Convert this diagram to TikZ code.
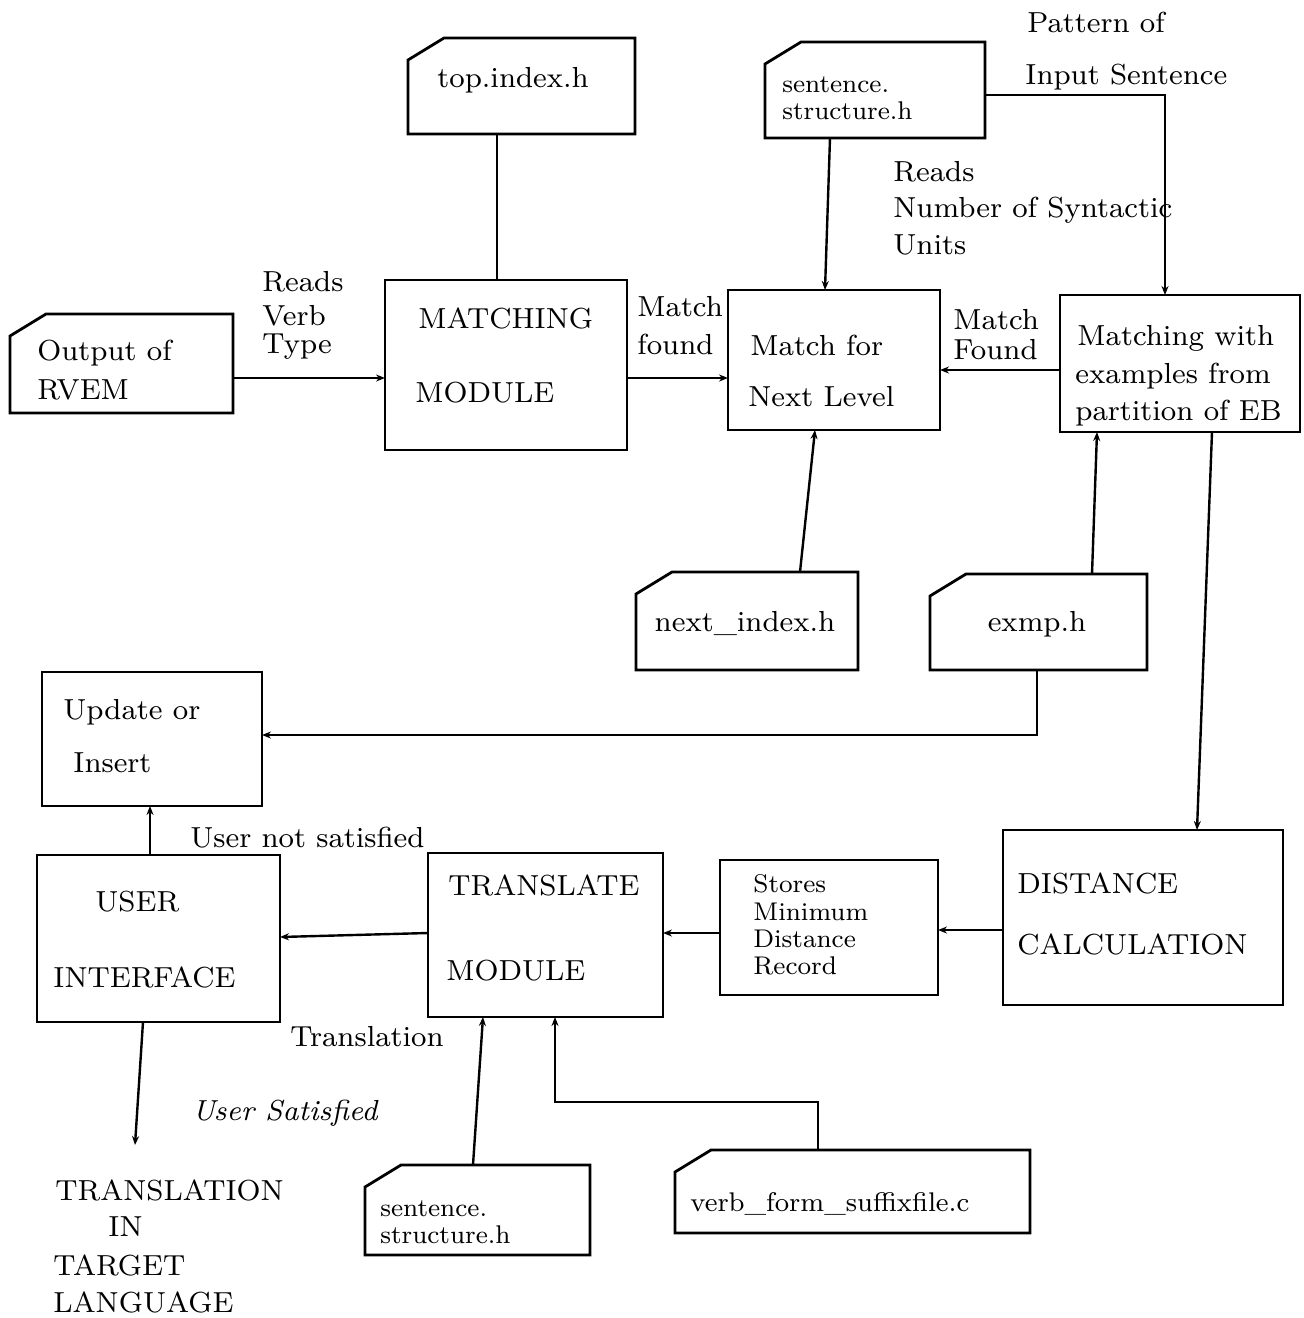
\documentclass[tikz,border=0pt]{standalone}
\usepackage{fontspec}
\setmainfont{lmroman8-regular.otf}[ItalicFont=lmroman8-italic.otf]
\usetikzlibrary{arrows.meta}
\begin{document}
\begin{tikzpicture}[x=0.5pt,y=-0.5pt]
\tikzset{
  boxst/.style={draw, line width=1.4pt, inner sep=0pt, outer sep=0pt},
  docst/.style={inner sep=0pt, outer sep=0pt},
  outline/.style={line width=1.4pt, line join=miter},
  link/.style={line width=1.2pt},
  arr/.style={link, -{Stealth[length=4.5pt,width=3.5pt]}},
  lbl/.style={font=\fontsize{14.5}{16}\selectfont, inner sep=0pt, anchor=west},
  lbls/.style={font=\fontsize{13.5}{14}\selectfont, inner sep=0pt, anchor=west},
  stack/.style={font=\fontsize{12.8}{13.6}\selectfont, inner sep=0pt, anchor=west, align=left},
}
% plain box: name, x1, y1, x2, y2
\newcommand\pbox[5]{\node[boxst, minimum width={(#4-#2)*0.5pt}, minimum height={(#5-#3)*0.5pt}]
  (#1) at ({(#2+#4)/2},{(#3+#5)/2}) {};}
% file box with a cut top-left corner
\newcommand\pdoc[5]{\node[docst, minimum width={(#4-#2)*0.5pt}, minimum height={(#5-#3)*0.5pt}]
  (#1) at ({(#2+#4)/2},{(#3+#5)/2}) {};
  \draw[outline] (#1.south west) -- ([yshift=-11pt]#1.north west) -- ([xshift=18pt]#1.north west)
    -- (#1.north east) -- (#1.south east) -- cycle;}

\useasboundingbox (0,0) rectangle (1303,1318);

% ---- boxes ----
\pdoc{topidx}{408}{38}{635}{134}
\pdoc{rvem}{10}{314}{233}{413}
\pbox{matching}{385}{280}{627}{450}
\pdoc{ssa}{765}{42}{985}{138}
\pbox{nextlvl}{728}{290}{940}{430}
\pbox{exmatch}{1060}{295}{1300}{432}
\pdoc{nextidx}{636}{572}{858}{670}
\pdoc{exmp}{930}{574}{1147}{670}
\pbox{update}{42}{672}{262}{806}
\pbox{user}{37}{855}{280}{1022}
\pbox{translate}{428}{853}{663}{1017}
\pbox{stores}{720}{860}{938}{995}
\pbox{dist}{1003}{830}{1283}{1005}
\pdoc{ssb}{365}{1165}{590}{1255}
\pdoc{verbf}{675}{1150}{1030}{1233}
\coordinate (outend) at (135,1145);

% ---- texts in boxes ----
\node[lbl] (tTop) at (437,80) {top.index.h};
\node[stack] (tSsa) at (782,98) {sentence.\\structure.h};
\node[lbl] (tRvem1) at (37,353) {Output of};
\node[lbl] (tRvem2) at (37,390) {RVEM};
\node[lbl] (tMat1) at (418,318) {MATCHING};
\node[lbl] (tMat2) at (415,393) {MODULE};
\node[lbl] (tNl1) at (750,345) {Match for};
\node[lbl] (tNl2) at (748,397) {Next Level};
\node[lbl] (tEx1) at (1077,338) {Matching with};
\node[lbl] (tEx2) at (1075,376) {examples from};
\node[lbl] (tEx3) at (1075,413) {partition of EB};
\node[lbl, anchor=center] (tNidx) at (745,623) {next\_index.h};
\node[lbl, anchor=center] (tExmp) at (1037,624) {exmp.h};
\node[lbl] (tUpd1) at (63,712) {Update or};
\node[lbl] (tUpd2) at (73,763) {Insert};
\node[lbl] (tUser1) at (95,902) {USER};
\node[lbl] (tUser2) at (53,977) {INTERFACE};
\node[lbl] (tTr1) at (448,885) {TRANSLATE};
\node[lbl] (tTr2) at (446,971) {MODULE};
\node[stack] (tStores) at (753,925) {Stores\\Minimum\\Distance\\Record};
\node[lbl] (tDist1) at (1017,883) {DISTANCE};
\node[lbl] (tDist2) at (1017,944) {CALCULATION};
\node[stack] (tSsb) at (380,1222) {sentence.\\structure.h};
\node[lbls] (tVerb) at (690,1204) {verb\_form\_suffixfile.c};

% ---- free labels ----
\node[lbl] (lPat1) at (1027,22) {Pattern of};
\node[lbl] (lPat2) at (1025,77) {Input Sentence};
\node[lbl] (lRd1) at (893,172) {Reads};
\node[lbl] (lRd2) at (893,210) {Number of Syntactic};
\node[lbl] (lRd3) at (893,245) {Units};
\node[lbl] (lVt1) at (262,282) {Reads};
\node[lbl] (lVt2) at (262,316) {Verb};
\node[lbl] (lVt3) at (262,347) {Type};
\node[lbl] (lMf1) at (637,307) {Match};
\node[lbl] (lMf2) at (637,344) {found};
\node[lbl] (lMF1) at (953,320) {Match};
\node[lbl] (lMF2) at (953,350) {Found};
\node[lbl] (lNot) at (190,838) {User not satisfied};
\node[lbl] (lTrans) at (290,1037) {Translation};
\node[lbl] (lSat) at (192,1113) {\itshape User Satisfied};
\node[lbl] (lOut1) at (55,1190) {TRANSLATION};
\node[lbl] (lOut2) at (108,1227) {IN};
\node[lbl] (lOut3) at (53,1265) {TARGET};
\node[lbl] (lOut4) at (53,1302) {LANGUAGE};

% ---- connectors ----
\draw[link] (497,0 |- topidx.south) -- (497,0 |- matching.north);
\draw[arr] (rvem.east |- 0,378) -- (matching.west |- 0,378);
\draw[arr] (matching.east |- 0,378) -- (nextlvl.west |- 0,378);
\draw[arr] (exmatch.west |- 0,370) -- (nextlvl.east |- 0,370);
\draw[arr] (830,0 |- ssa.south) -- (825,0 |- nextlvl.north);
\draw[arr] (ssa.east |- 0,95) -| (1165,0 |- exmatch.north);
\draw[arr] (800,0 |- nextidx.north) -- (815,0 |- nextlvl.south);
\draw[arr] (1092,0 |- exmp.north) -- (1097,0 |- exmatch.south);
\draw[arr] (1212,0 |- exmatch.south) -- (1197,0 |- dist.north);
\draw[arr] (1037,0 |- exmp.south) |- (update.east |- 0,735);
\draw[arr] (150,0 |- user.north) -- (150,0 |- update.south);
\draw[arr] (translate.west |- 0,933) -- (user.east |- 0,937);
\draw[arr] (stores.west |- 0,933) -- (translate.east |- 0,933);
\draw[arr] (dist.west |- 0,930) -- (stores.east |- 0,930);
\draw[arr] (143,0 |- user.south) -- (outend);
\draw[arr] (473,0 |- ssb.north) -- (483,0 |- translate.south);
\draw[arr] (818,0 |- verbf.north) -- (818,1102) -| (555,0 |- translate.south);
\end{tikzpicture}
\end{document}
